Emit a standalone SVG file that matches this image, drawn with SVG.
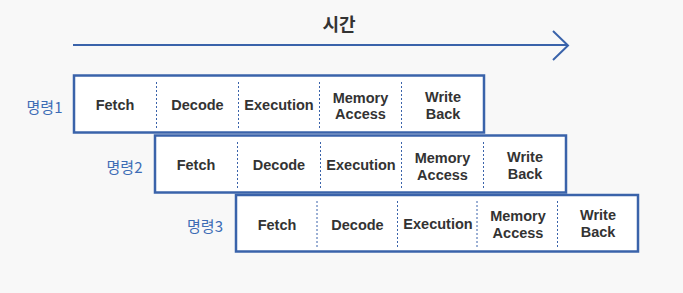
<svg xmlns="http://www.w3.org/2000/svg" width="683" height="293" viewBox="0 0 683 293">
<style>
.bg{fill:#f8f8f8}
.box{fill:#ffffff;stroke:#3a63aa;stroke-width:2.5}
.div{stroke:#3a63aa;stroke-width:1;stroke-dasharray:2 2;fill:none}
.t{font-family:"Liberation Sans",Arial,sans-serif;font-weight:bold;font-size:14.5px;fill:#333333;text-anchor:middle}
.lab{font-family:"Noto Sans CJK KR","Noto Sans",sans-serif;font-size:15px;fill:#3d6cb5;text-anchor:end}
.title{font-family:"Noto Sans CJK KR","Noto Sans",sans-serif;font-weight:bold;font-size:18px;fill:#333333;text-anchor:middle}
.arrow{stroke:#3a63aa;stroke-width:2;fill:none}
</style>
<rect class="bg" x="0" y="0" width="683" height="293"/>
<g id="time-axis">
<text class="title" x="339" y="31">시간</text>
<g id="connectors">
<line class="arrow" x1="73" y1="45" x2="567" y2="45"/>
<polyline class="arrow" points="553,31 568,45.5 553,60"/>
</g>
</g>
<g id="instr1">
<text class="lab" x="62.5" y="113">명령1</text>
<rect class="box" x="74" y="75.5" width="410" height="57"/>
<line class="div" x1="156.5" y1="82" x2="156.5" y2="129"/>
<line class="div" x1="238.5" y1="82" x2="238.5" y2="129"/>
<line class="div" x1="319.5" y1="82" x2="319.5" y2="129"/>
<line class="div" x1="401.5" y1="82" x2="401.5" y2="129"/>
<text class="t" x="115" y="110">Fetch</text>
<text class="t" x="197.5" y="110">Decode</text>
<text class="t" x="279" y="110">Execution</text>
<text class="t" x="360.5" y="103">Memory</text>
<text class="t" x="360.5" y="119">Access</text>
<text class="t" x="443" y="102">Write</text>
<text class="t" x="443" y="118.5">Back</text>
</g>
<g id="instr2">
<text class="lab" x="142.5" y="173">명령2</text>
<rect class="box" x="155" y="135.5" width="411" height="57"/>
<line class="div" x1="237.5" y1="142" x2="237.5" y2="189"/>
<line class="div" x1="320.5" y1="142" x2="320.5" y2="189"/>
<line class="div" x1="401.5" y1="142" x2="401.5" y2="189"/>
<line class="div" x1="483.5" y1="142" x2="483.5" y2="189"/>
<text class="t" x="196" y="170">Fetch</text>
<text class="t" x="279" y="170">Decode</text>
<text class="t" x="361" y="169.5">Execution</text>
<text class="t" x="442.5" y="163">Memory</text>
<text class="t" x="442.5" y="179.5">Access</text>
<text class="t" x="525" y="162">Write</text>
<text class="t" x="525" y="178.5">Back</text>
</g>
<g id="instr3">
<text class="lab" x="223" y="232">명령3</text>
<rect class="box" x="236" y="195" width="402" height="56.5"/>
<line class="div" x1="317" y1="201" x2="317" y2="248"/>
<line class="div" x1="397.5" y1="201" x2="397.5" y2="248"/>
<line class="div" x1="477" y1="201" x2="477" y2="248"/>
<line class="div" x1="557.5" y1="201" x2="557.5" y2="248"/>
<text class="t" x="277" y="229.5">Fetch</text>
<text class="t" x="357.5" y="229.5">Decode</text>
<text class="t" x="438" y="229">Execution</text>
<text class="t" x="518" y="221">Memory</text>
<text class="t" x="518" y="237.5">Access</text>
<text class="t" x="598" y="220">Write</text>
<text class="t" x="598" y="236.5">Back</text>
</g>
</svg>
